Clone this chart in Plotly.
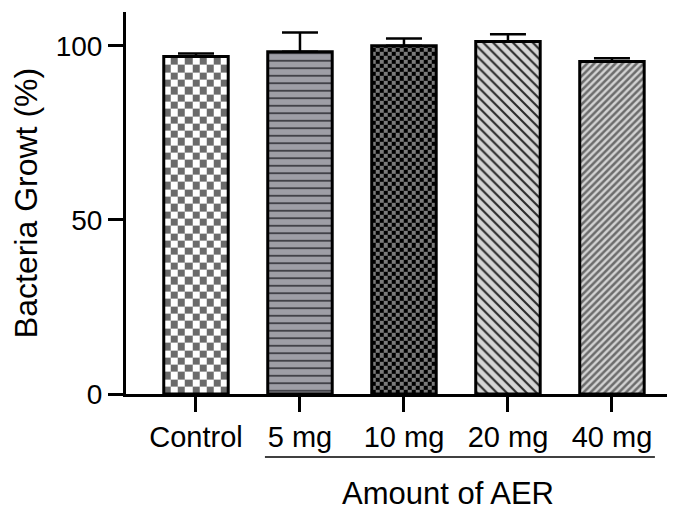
import numpy as np
import plotly.graph_objects as go

categories = ["Control", "5 mg", "10 mg", "20 mg", "40 mg"]
growth = [96.9, 98.3, 100.0, 101.2, 95.5]
err_up = [0.9, 5.5, 2.1, 2.1, 0.9]
y_ticks = [0, 50, 100]

FONT = "Arial, Liberation Sans, sans-serif"
BAR_W = 0.62
xpos = list(range(len(categories)))

fig = go.Figure()


def checker(idx, ncols, ystep, c0, c1):
    v = growth[idx]
    x0 = xpos[idx] - BAR_W / 2
    xe = np.linspace(x0, x0 + BAR_W, ncols + 1)
    ye = np.arange(0, v, ystep)
    ye = np.append(ye, v)
    nr = len(ye) - 1
    z = [[(i + j) % 2 for j in range(ncols)] for i in range(nr)]
    fig.add_trace(go.Heatmap(x=xe, y=ye, z=z, zmin=0, zmax=1,
                             colorscale=[[0, c0], [1, c1]], showscale=False,
                             hoverinfo="skip"))


checker(0, 9, 2.1, "#6b6b6b", "#ffffff")
checker(2, 16, 1.17, "#000000", "#7a7a7a")

patterns = [
    dict(shape="", bgcolor="rgba(0,0,0,0)"),
    dict(shape="-", bgcolor="#9e9ea6", fgcolor="#1e1e24", size=7.5, solidity=0.18, fillmode="replace"),
    dict(shape="", bgcolor="rgba(0,0,0,0)"),
    dict(shape="\\", bgcolor="#d6d6d6", fgcolor="#2a2a2a", size=7, solidity=0.3, fillmode="replace"),
    dict(shape="/", bgcolor="#6c6c6c", fgcolor="#d2d2d2", size=5, solidity=0.5, fillmode="replace"),
]

for i in range(len(categories)):
    p = patterns[i]
    if p["shape"] == "":
        marker = dict(color="rgba(0,0,0,0)", line=dict(color="black", width=3))
    else:
        marker = dict(color=p["bgcolor"], pattern=p, line=dict(color="black", width=3))
    fig.add_trace(go.Bar(
        x=[xpos[i]], y=[growth[i]], width=BAR_W, marker=marker,
        error_y=dict(type="data", symmetric=False, array=[err_up[i]], arrayminus=[0],
                     color="black", thickness=2.5, width=18),
        showlegend=False, hoverinfo="skip"))

fig.update_layout(
    width=667, height=505,
    margin=dict(l=118, r=2, t=4, b=118.7),
    paper_bgcolor="white", plot_bgcolor="white",
    barmode="overlay",
    font=dict(family=FONT, size=28, color="black"),
    showlegend=False,
)
fig.update_xaxes(
    range=[-0.673, 4.587], tickvals=xpos, ticktext=categories,
    showline=True, linecolor="black", linewidth=3,
    ticks="outside", ticklen=15, tickwidth=3, tickcolor="black",
    showgrid=False, zeroline=False, tickfont=dict(size=29),
)
fig.update_yaxes(
    range=[0, 109.7], tickvals=y_ticks,
    showline=True, linecolor="black", linewidth=3,
    ticks="outside", ticklen=15, tickwidth=3, tickcolor="black",
    showgrid=False, zeroline=False, tickfont=dict(size=28),
    title=dict(text="Bacteria Growt (%)", font=dict(size=32), standoff=14),
)

fig.add_shape(type="line", xref="x", yref="paper", x0=0.663, x1=4.413,
              y0=-0.1648, y1=-0.1648, line=dict(color="black", width=1.5))
fig.add_annotation(text="Amount of AER", xref="x", yref="paper", x=2.42, y=-0.26,
                   showarrow=False, font=dict(size=31), xanchor="center", yanchor="middle")

fig.write_html("out.html")
